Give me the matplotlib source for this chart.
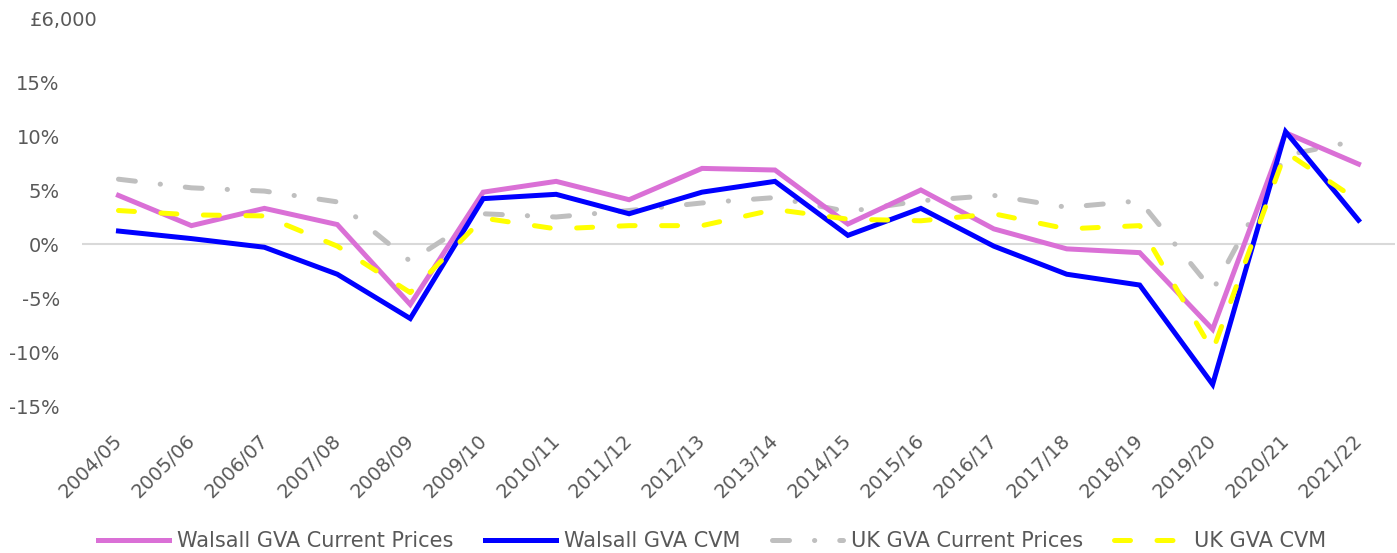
import matplotlib
matplotlib.use('Agg')
import matplotlib.pyplot as plt
import matplotlib.transforms as mtransforms

# data
years = ['2004/05', '2005/06', '2006/07', '2007/08', '2008/09', '2009/10',
         '2010/11', '2011/12', '2012/13', '2013/14', '2014/15', '2015/16',
         '2016/17', '2017/18', '2018/19', '2019/20', '2020/21', '2021/22']
walsall_current = [4.5, 1.7, 3.3, 1.8, -5.6, 4.8, 5.8, 4.1, 7.0, 6.85,
                   1.85, 5.0, 1.4, -0.45, -0.8, -7.9, 10.3, 7.4]
walsall_cvm = [1.2, 0.5, -0.3, -2.8, -6.9, 4.2, 4.6, 2.8, 4.8, 5.8,
               0.8, 3.3, -0.2, -2.8, -3.8, -13.0, 10.4, 2.2]
uk_current = [6.0, 5.2, 4.9, 3.9, -1.6, 2.8, 2.5, 3.1, 3.8, 4.3,
              3.0, 4.0, 4.5, 3.4, 4.0, -4.3, 8.2, 9.6]
uk_cvm = [3.1, 2.7, 2.6, -0.2, -4.5, 2.4, 1.4, 1.7, 1.7, 3.2,
          2.3, 2.15, 2.8, 1.4, 1.7, -9.9, 8.5, 4.0]
y_ticks = [-15, -10, -5, 0, 5, 10, 15]

txt_col = '#595959'

fig = plt.figure(figsize=(13.97, 5.53), dpi=100)
ax = fig.add_axes([82 / 1397, 1 - 406 / 553, 1313 / 1397, 378 / 553])

x = range(len(years))
lw = 3.6
ax.axhline(0, color='#D9D9D9', lw=1.5, zorder=1)
ax.plot(x, walsall_current, color='#DA70D6', lw=lw, label='Walsall GVA Current Prices',
        solid_joinstyle='miter', zorder=3)
ax.plot(x, walsall_cvm, color='#0000FF', lw=lw, label='Walsall GVA CVM',
        solid_joinstyle='miter', zorder=4)
ax.plot(x, uk_current, color='#BFBFBF', lw=lw, label='UK GVA Current Prices',
        dashes=(3.4, 5, 0.05, 5), dash_capstyle='round', zorder=2)
ax.plot(x, uk_cvm, color='#FFFF00', lw=lw, label='UK GVA CVM',
        dashes=(3.2, 5.3), dash_capstyle='round', zorder=5)

ax.set_xlim(-0.5, len(years) - 0.5)
ax.set_ylim(-15, 20)
ax.set_yticks(y_ticks)
ax.set_yticklabels([f'{v}%' for v in y_ticks])
ax.set_xticks(list(x))
ax.set_xticklabels(years, rotation=45, ha='right', va='top', rotation_mode='anchor')
ax.tick_params(axis='both', length=0, labelsize=14, labelcolor=txt_col)
ax.tick_params(axis='x', pad=18)
ax.tick_params(axis='y', pad=16)
offset = mtransforms.ScaledTranslation(-6 / 100, 0, fig.dpi_scale_trans)
for lab in ax.get_xticklabels():
    lab.set_transform(lab.get_transform() + offset)
for s in ax.spines.values():
    s.set_visible(False)

fig.text(30 / 1397, 1 - 20 / 553, '£6,000', fontsize=14, color=txt_col,
         ha='left', va='center')

leg = fig.legend(loc='center', bbox_to_anchor=(712 / 1397, 1 - 541 / 553), ncol=4,
                 frameon=False, handlelength=3.4, columnspacing=1.5,
                 handletextpad=0.4, prop={'size': 15})
for t in leg.get_texts():
    t.set_color(txt_col)

fig.savefig('out.png', dpi=100)
